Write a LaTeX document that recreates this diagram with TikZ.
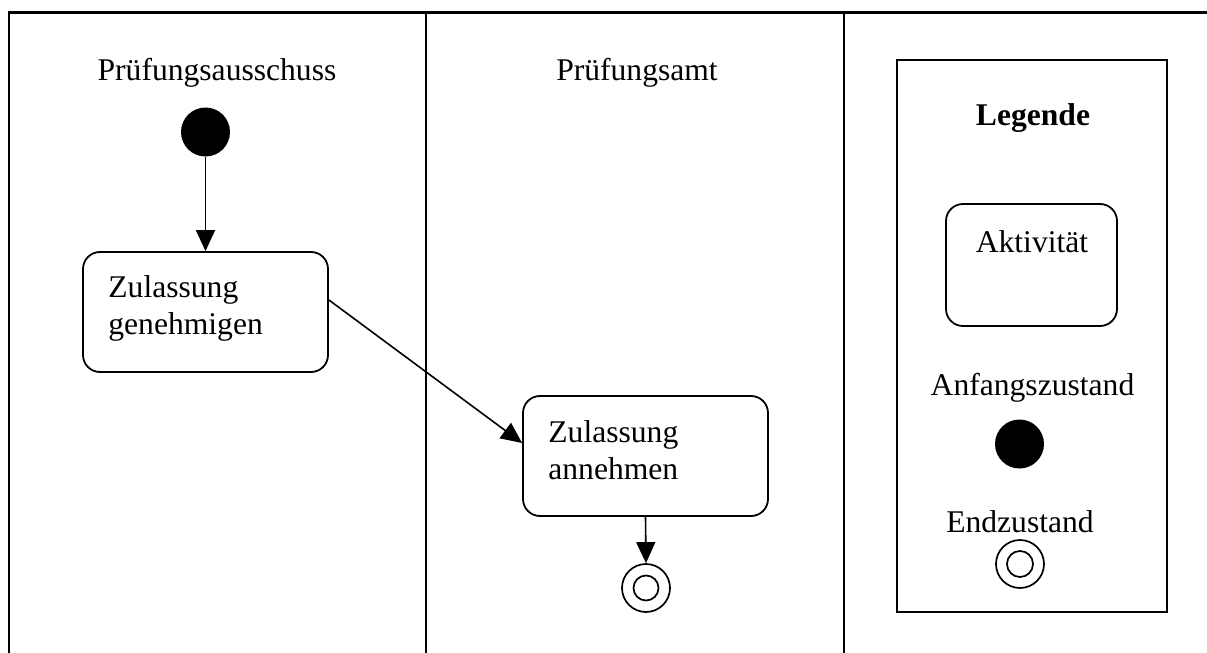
\documentclass[tikz,border=0pt]{standalone}
\usepackage{fontspec}
\setmainfont{Liberation Serif}
\usetikzlibrary{arrows.meta,calc}
\begin{document}
\begin{tikzpicture}[x=0.5pt,y=-0.5pt,
  frame/.style={line width=1.1pt},
  activity/.style={draw,line width=0.9pt,rounded corners=8.5pt,inner sep=0pt},
  startstate/.style={circle,fill=black,minimum size=24.5pt,inner sep=0pt},
  endstate/.style={circle,draw,line width=0.85pt,minimum size=24pt,inner sep=0pt},
  txt/.style={inner sep=0pt,font=\fontsize{15.8}{18.5}\selectfont,align=left},
  flow/.style={line width=0.8pt,-{Triangle[length=10.5pt,width=9.5pt]}}
]
\useasboundingbox (0,0) rectangle (1207,653);
\fill[white] (0,0) rectangle (1207,653);

% swimlane frame
\coordinate (tl) at (9,12.5);
\coordinate (tr) at (1207,12.5);
\coordinate (bl) at (9,653);
\coordinate (d1t) at (426,12.5);
\coordinate (d1b) at (426,653);
\coordinate (d2t) at (844,12.5);
\coordinate (d2b) at (844,653);
\draw[frame] (bl) -- (tl) -- (tr);
\draw[frame] (d1t) -- (d1b);
\draw[frame] (d2t) -- (d2b);

% lane titles
\node[txt,anchor=base] (lane1) at (217,81) {Prüfungsausschuss};
\node[txt,anchor=base] (lane2) at (637,81) {Prüfungsamt};

% activities (the base anchor of a two-line label sits on its last line)
\node[startstate] (start) at (205.5,132) {};
\node[activity,minimum width=122.5pt,minimum height=60pt] (b1) at (205.5,312) {};
\node[txt,anchor=base west] (t1) at (108,334) {Zulassung\\genehmigen};
\node[activity,minimum width=122.5pt,minimum height=60pt] (b2) at (645.5,456) {};
\node[txt,anchor=base west] (t2) at (548,479) {Zulassung\\annehmen};
\node[endstate] (fin) at (646,588) {};
\draw[line width=0.85pt] (fin.center) circle[radius=6.25pt];

\draw[flow] (start) -- (b1.north);
\draw[flow] ($(b1.east)+(0,-12)$) -- ($(b2.west)+(0,-13)$);
\draw[flow] (b2.south) -- (fin.north);

% legend
\node[draw,line width=1pt,minimum width=135pt,minimum height=276pt,inner sep=0pt] (legend) at (1032,336) {};
\node[txt,anchor=base,font=\fontsize{15.8}{18.5}\selectfont\bfseries] (lgtitle) at (1033,126) {Legende};
\node[activity,minimum width=85.5pt,minimum height=61pt] (lgact) at (1031.5,265) {};
\node[txt,anchor=base] (lgacttxt) at (1032,252) {Aktivität};
\node[txt,anchor=base] (lgstarttxt) at (1032.5,395) {Anfangszustand};
\node[startstate] (lgstart) at (1019.5,444) {};
\node[txt,anchor=base] (lgendtxt) at (1020,532) {Endzustand};
\node[endstate] (lgend) at (1020,564) {};
\draw[line width=0.85pt] (lgend.center) circle[radius=6.5pt];
\end{tikzpicture}
\end{document}
